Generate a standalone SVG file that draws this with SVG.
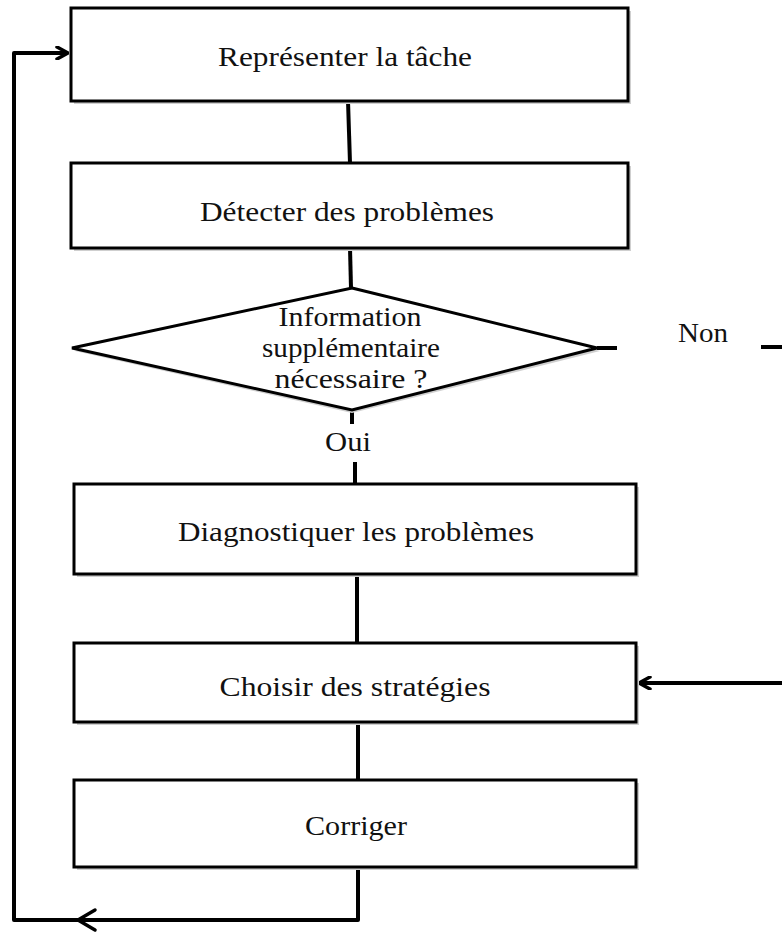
<svg xmlns="http://www.w3.org/2000/svg" width="782" height="933" viewBox="0 0 782 933">
  <style>
    .box { fill: #fff; stroke: #000; stroke-width: 3; }
    .shadow { fill: #cfcfcf; }
    .lbl { font-family: "Liberation Serif", "Times New Roman", serif; font-size: 27px; fill: #111; text-anchor: middle; }
    .cond { font-family: "Liberation Serif", "Times New Roman", serif; font-size: 27px; fill: #111; text-anchor: middle; }
    .wire { fill: none; stroke: #000; stroke-width: 4; stroke-linejoin: round; }
  </style>
  <defs>
    <marker id="open" viewBox="0 0 14 14" refX="13" refY="7" markerWidth="14" markerHeight="14" markerUnits="userSpaceOnUse" orient="auto">
      <path d="M2,1 L13,7 L2,13" fill="none" stroke="#000" stroke-width="3.5" stroke-linecap="round" stroke-linejoin="round"/>
    </marker>
  </defs>
  <rect width="782" height="933" fill="#fff"/>

  <g id="connectors">
    <line class="wire" x1="348" y1="101" x2="350" y2="163"/>
    <line class="wire" x1="350" y1="248" x2="351" y2="288"/>
    <line class="wire" x1="352" y1="410" x2="352" y2="424"/>
    <line class="wire" x1="355" y1="462" x2="355" y2="484"/>
    <line class="wire" x1="357" y1="574" x2="357" y2="643"/>
    <line class="wire" x1="358" y1="722" x2="358" y2="780"/>
    <line class="wire" x1="597" y1="348" x2="617" y2="348"/>
    <line class="wire" x1="761" y1="347" x2="782" y2="347"/>
    <line class="wire" x1="782" y1="683" x2="639" y2="683" marker-end="url(#open)"/>
    <polyline class="wire" points="358,867 358,920 14,920 14,53 68,53" marker-end="url(#open)"/>
    <path d="M95,910 L78,920 L95,930" fill="none" stroke="#000" stroke-width="3.5" stroke-linecap="round" stroke-linejoin="round"/>
  </g>

  <g id="n1">
    <rect class="shadow" x="74" y="11" width="557" height="93"/>
    <rect class="box" x="71" y="8" width="557" height="93"/>
    <text class="lbl" x="345" y="66" textLength="254" lengthAdjust="spacingAndGlyphs">Représenter la tâche</text>
  </g>

  <g id="n2">
    <rect class="shadow" x="74" y="166" width="557" height="85"/>
    <rect class="box" x="71" y="163" width="557" height="85"/>
    <text class="lbl" x="347" y="221" textLength="294" lengthAdjust="spacingAndGlyphs">Détecter des problèmes</text>
  </g>

  <g id="n3">
    <polygon class="shadow" points="352,291 600,351 352,413 75,351"/>
    <polygon class="box" points="352,288 597,348 352,410 72,348"/>
    <text class="cond" x="350" y="326" textLength="143" lengthAdjust="spacingAndGlyphs">Information</text>
    <text class="cond" x="351" y="357" textLength="178" lengthAdjust="spacingAndGlyphs">supplémentaire</text>
    <text class="cond" x="351" y="388" textLength="153" lengthAdjust="spacingAndGlyphs">nécessaire ?</text>
  </g>

  <g id="labels">
    <text class="lbl" x="348" y="451" textLength="46" lengthAdjust="spacingAndGlyphs">Oui</text>
    <text class="lbl" x="703" y="342" textLength="50" lengthAdjust="spacingAndGlyphs">Non</text>
  </g>

  <g id="n4">
    <rect class="shadow" x="77" y="487" width="562" height="90"/>
    <rect class="box" x="74" y="484" width="562" height="90"/>
    <text class="lbl" x="356" y="541" textLength="356" lengthAdjust="spacingAndGlyphs">Diagnostiquer les problèmes</text>
  </g>

  <g id="n5">
    <rect class="shadow" x="77" y="646" width="562" height="79"/>
    <rect class="box" x="74" y="643" width="562" height="79"/>
    <text class="lbl" x="355" y="696" textLength="271" lengthAdjust="spacingAndGlyphs">Choisir des stratégies</text>
  </g>

  <g id="n6">
    <rect class="shadow" x="77" y="783" width="562" height="87"/>
    <rect class="box" x="74" y="780" width="562" height="87"/>
    <text class="lbl" x="356" y="835" textLength="102" lengthAdjust="spacingAndGlyphs">Corriger</text>
  </g>
</svg>
